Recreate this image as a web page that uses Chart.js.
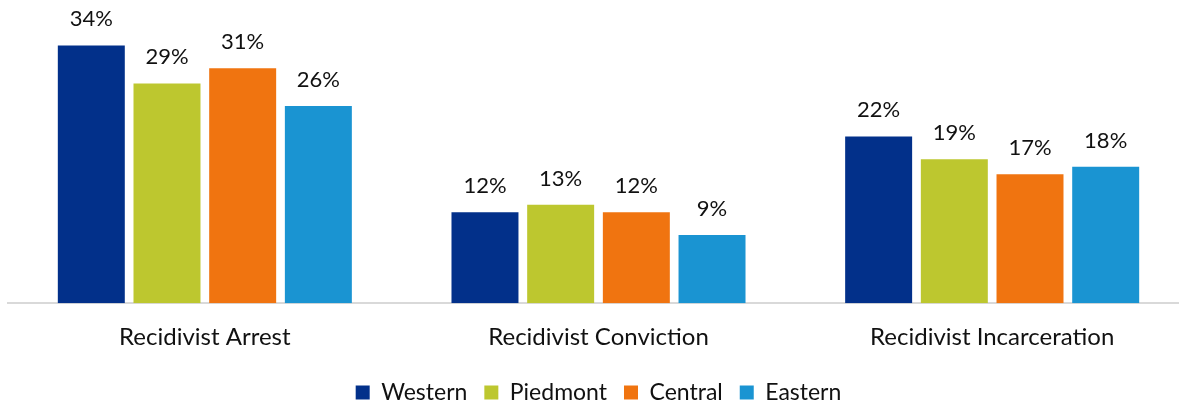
<!DOCTYPE html>
<html>
<head>
<meta charset="utf-8">
<script src="https://cdn.jsdelivr.net/npm/chart.js@4"></script>
<style>
  html, body { margin: 0; padding: 0; background: #fff; overflow: hidden; }
  #wrap { width: 1210px; height: 414px; margin-left: -21px; }
</style>
</head>
<body>
<div id="wrap"><canvas id="myChart"></canvas></div>
<script>
const categories = ["Recidivist Arrest", "Recidivist Conviction", "Recidivist Incarceration"];
const regions = ["Western", "Piedmont", "Central", "Eastern"];
const western = [34, 12, 22];
const piedmont = [29, 13, 19];
const central = [31, 12, 17];
const eastern = [26, 9, 18];
const colors = ["#02308A", "#BDC72F", "#F07410", "#1A94D2"];

const fontFamily = "Lato, 'Open Sans', sans-serif";

// draw value labels above each bar
const valueLabels = {
    id: "valueLabels",
    afterDatasetsDraw(chart) {
        const ctx = chart.ctx;
        ctx.save();
        ctx.font = "22px " + fontFamily;
        ctx.fillStyle = "#111";
        ctx.textAlign = "center";
        ctx.textBaseline = "alphabetic";
        chart.data.datasets.forEach((ds, i) => {
            chart.getDatasetMeta(i).data.forEach((bar, j) => {
                ctx.fillText(ds.data[j] + "%", bar.x, bar.y - 19);
            });
        });
        ctx.restore();
    }
};

const seriesData = [western, piedmont, central, eastern];

const ctx = document.getElementById("myChart").getContext("2d");
const chart = new Chart(ctx, {
    type: "bar",
    data: {
        labels: categories,
        datasets: regions.map((name, i) => ({
            label: name,
            data: seriesData[i],
            backgroundColor: colors[i],
            categoryPercentage: 0.769,
            barPercentage: 0.885,
        })),
    },
    options: {
        responsive: true,
        maintainAspectRatio: false,
        animation: false,
        layout: {
            padding: { left: 29, right: 0, top: 0, bottom: 0 },
        },
        scales: {
            x: {
                grid: { display: false },
                border: { color: "#d9d9d9", width: 2 },
                ticks: {
                    color: "#111",
                    font: { family: fontFamily, size: 24 },
                    padding: 12,
                },
            },
            y: {
                display: false,
                min: 0,
                max: 40,
            },
        },
        plugins: {
            legend: {
                position: "bottom",
                labels: {
                    color: "#111",
                    font: { family: fontFamily, size: 23 },
                    boxWidth: 14,
                    boxHeight: 14,
                    padding: 17,
                },
            },
            tooltip: { enabled: false },
        },
    },
    plugins: [valueLabels],
});
</script>
</body>
</html>
